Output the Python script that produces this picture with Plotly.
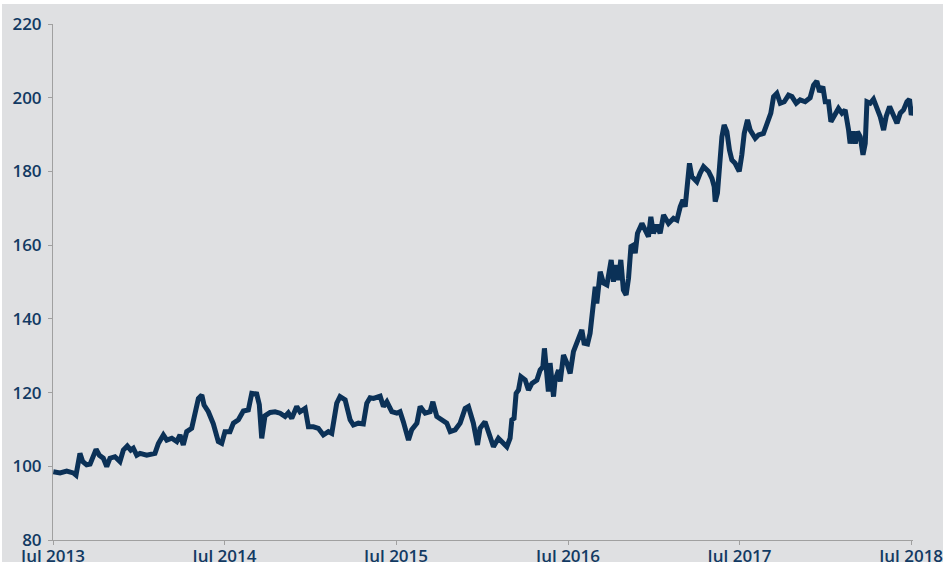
import pandas as pd
import plotly.graph_objects as go

# decimal-year position of each reading and the index level
years = [
    2013.502, 2013.541, 2013.580, 2013.618, 2013.634, 2013.647, 2013.657, 2013.673, 2013.696, 2013.716,
    2013.735, 2013.751, 2013.770, 2013.793, 2013.813, 2013.832, 2013.861, 2013.890, 2013.910, 2013.933,
    2013.953, 2013.968, 2013.988, 2014.007, 2014.046, 2014.094, 2014.114, 2014.143, 2014.163, 2014.192,
    2014.221, 2014.240, 2014.259, 2014.279, 2014.308, 2014.328, 2014.347, 2014.367, 2014.380, 2014.405,
    2014.434, 2014.463, 2014.483, 2014.502, 2014.531, 2014.551, 2014.580, 2014.609, 2014.638, 2014.658,
    2014.687, 2014.702, 2014.716, 2014.735, 2014.765, 2014.794, 2014.823, 2014.852, 2014.871, 2014.891,
    2014.920, 2014.939, 2014.969, 2014.988, 2015.017, 2015.046, 2015.075, 2015.104, 2015.124, 2015.153,
    2015.172, 2015.202, 2015.231, 2015.250, 2015.279, 2015.308, 2015.328, 2015.347, 2015.367, 2015.406,
    2015.425, 2015.445, 2015.474, 2015.503, 2015.522, 2015.541, 2015.571, 2015.590, 2015.620, 2015.639,
    2015.668, 2015.697, 2015.713, 2015.736, 2015.765, 2015.794, 2015.814, 2015.843, 2015.872, 2015.901,
    2015.920, 2015.949, 2015.973, 2015.988, 2016.017, 2016.047, 2016.066, 2016.095, 2016.124, 2016.144,
    2016.163, 2016.173, 2016.186, 2016.198, 2016.212, 2016.226, 2016.251, 2016.270, 2016.290, 2016.319,
    2016.338, 2016.354, 2016.363, 2016.377, 2016.386, 2016.396, 2016.416, 2016.425, 2016.445, 2016.455,
    2016.474, 2016.494, 2016.513, 2016.532, 2016.552, 2016.571, 2016.581, 2016.594, 2016.614, 2016.629,
    2016.649, 2016.659, 2016.668, 2016.678, 2016.688, 2016.707, 2016.727, 2016.752, 2016.765, 2016.781,
    2016.794, 2016.808, 2016.823, 2016.839, 2016.853, 2016.867, 2016.882, 2016.892, 2016.905, 2016.931,
    2016.950, 2016.969, 2016.983, 2016.998, 2017.018, 2017.037, 2017.057, 2017.086, 2017.115, 2017.135,
    2017.154, 2017.170, 2017.183, 2017.193, 2017.208, 2017.222, 2017.251, 2017.270, 2017.290, 2017.319,
    2017.339, 2017.352, 2017.358, 2017.371, 2017.383, 2017.397, 2017.410, 2017.426, 2017.441, 2017.455,
    2017.474, 2017.498, 2017.513, 2017.527, 2017.546, 2017.562, 2017.591, 2017.610, 2017.639, 2017.655,
    2017.668, 2017.682, 2017.698, 2017.717, 2017.737, 2017.760, 2017.785, 2017.805, 2017.830, 2017.853,
    2017.882, 2017.911, 2017.931, 2017.950, 2017.966, 2017.985, 2017.999, 2018.018, 2018.032, 2018.057,
    2018.076, 2018.096, 2018.115, 2018.135, 2018.144, 2018.160, 2018.174, 2018.187, 2018.203, 2018.219,
    2018.232, 2018.242, 2018.261, 2018.280, 2018.300, 2018.319, 2018.339, 2018.354, 2018.374, 2018.393,
    2018.417, 2018.436, 2018.455, 2018.475, 2018.490, 2018.500, 2018.513,
]

values = [
    98.5, 98.2, 98.7, 98.2, 97.6, 101.7, 103.5, 101.3, 100.4, 100.6,
    102.6, 104.6, 103.0, 102.2, 99.9, 102.2, 102.6, 101.3, 104.4, 105.5,
    104.4, 104.9, 103.0, 103.5, 103.0, 103.5, 106.2, 108.5, 107.1, 107.6,
    106.7, 108.5, 105.8, 109.4, 110.3, 114.4, 118.4, 119.3, 116.6, 114.8,
    111.5, 106.7, 106.2, 109.4, 109.4, 111.7, 112.6, 115.0, 115.3, 119.8,
    119.6, 116.7, 107.6, 113.7, 114.6, 114.8, 114.4, 113.5, 114.5, 113.0,
    116.2, 114.8, 115.7, 110.7, 110.7, 110.3, 108.5, 109.4, 108.9, 117.1,
    118.9, 118.0, 112.6, 111.2, 111.7, 111.5, 117.1, 118.6, 118.4, 119.0,
    116.2, 117.5, 114.8, 114.4, 114.8, 112.1, 107.1, 109.9, 111.7, 116.2,
    114.4, 114.8, 117.5, 113.5, 112.6, 111.7, 109.4, 109.9, 111.7, 115.7,
    116.2, 111.7, 105.8, 110.3, 112.1, 108.5, 105.3, 107.6, 106.5, 105.3,
    107.6, 112.6, 113.0, 119.8, 120.7, 124.3, 123.4, 120.7, 122.5, 123.4,
    126.1, 127.0, 132.0, 125.2, 120.3, 128.0, 118.9, 123.4, 126.1, 123.0,
    130.2, 128.0, 125.2, 131.1, 133.4, 135.2, 137.0, 133.4, 133.2, 136.1,
    143.3, 148.7, 144.2, 149.2, 152.8, 149.7, 149.2, 156.0, 150.1, 154.6,
    150.5, 156.0, 147.8, 146.5, 151.0, 159.6, 160.0, 157.8, 163.2, 165.9,
    163.7, 162.3, 167.7, 163.2, 165.5, 163.2, 168.2, 165.9, 167.3, 166.8,
    170.4, 172.3, 170.4, 176.8, 182.2, 178.6, 177.2, 179.5, 181.3, 180.0,
    178.1, 175.9, 171.8, 174.1, 183.6, 189.4, 192.6, 190.8, 185.8, 183.1,
    182.2, 180.0, 184.5, 190.3, 194.0, 191.2, 189.0, 189.9, 190.3, 192.6,
    194.4, 195.8, 200.3, 201.2, 198.5, 198.9, 200.7, 200.3, 198.5, 199.4,
    198.9, 200.0, 203.4, 204.5, 201.6, 203.0, 198.9, 198.9, 193.5, 195.8,
    197.1, 195.8, 196.7, 191.2, 187.6, 190.8, 187.6, 190.8, 189.4, 184.5,
    187.6, 198.9, 198.5, 199.6, 197.6, 194.9, 191.2, 194.9, 197.6, 195.3,
    193.1, 195.8, 196.7, 198.9, 199.6, 195.3, 197.6,
]

tick_dates = ['2013-07-01', '2014-07-01', '2015-07-01', '2016-07-01', '2017-07-01', '2018-07-01']
tick_text  = ['Jul 2013', 'Jul 2014', 'Jul 2015', 'Jul 2016', 'Jul 2017', 'Jul 2018']
y_ticks    = [80, 100, 120, 140, 160, 180, 200, 220]

start = pd.Timestamp('2013-07-01')
dates = [start + pd.Timedelta(days=(yr - 2013.5) * 365.25) for yr in years]

bg_color   = '#dfe0e2'
line_color = '#0b3157'
text_color = '#123a63'
axis_color = '#a0a0a0'

fig = go.Figure()

fig.add_trace(go.Scatter(x    = dates,
                         y    = values,
                         mode = 'lines',
                         line = dict(color = line_color, width = 5),
                         showlegend = False,
                         hoverinfo  = 'skip'))

tick_font = dict(family = 'Open Sans', size = 17, color = text_color, weight = 600)

fig.update_xaxes(range      = ['2013-07-01', '2018-07-05'],
                 tickvals   = tick_dates,
                 ticktext   = tick_text,
                 tickfont   = tick_font,
                 automargin = False,
                 ticklabeloverflow = 'allow',
                 ticklabelstandoff = -3,
                 showgrid   = False,
                 zeroline   = False,
                 showline   = True,
                 linecolor  = axis_color,
                 linewidth  = 1,
                 ticks      = 'outside',
                 ticklen    = 4,
                 tickcolor  = axis_color)

fig.update_yaxes(range      = [80, 220],
                 tickvals   = y_ticks,
                 tickfont   = tick_font,
                 automargin = False,
                 showgrid   = False,
                 zeroline   = False,
                 showline   = True,
                 linecolor  = axis_color,
                 linewidth  = 1,
                 ticks      = 'outside',
                 ticklen    = 4,
                 tickcolor  = axis_color,
                 ticklabelstandoff = 3)

fig.update_layout(width         = 941,
                  height        = 558,
                  margin        = dict(l = 51, r = 30, t = 20, b = 22),
                  paper_bgcolor = bg_color,
                  plot_bgcolor  = bg_color)

# thin white page border like the original export
fig.write_html("out.html", post_script="document.body.style.margin = '4px 0 0 2px';")
